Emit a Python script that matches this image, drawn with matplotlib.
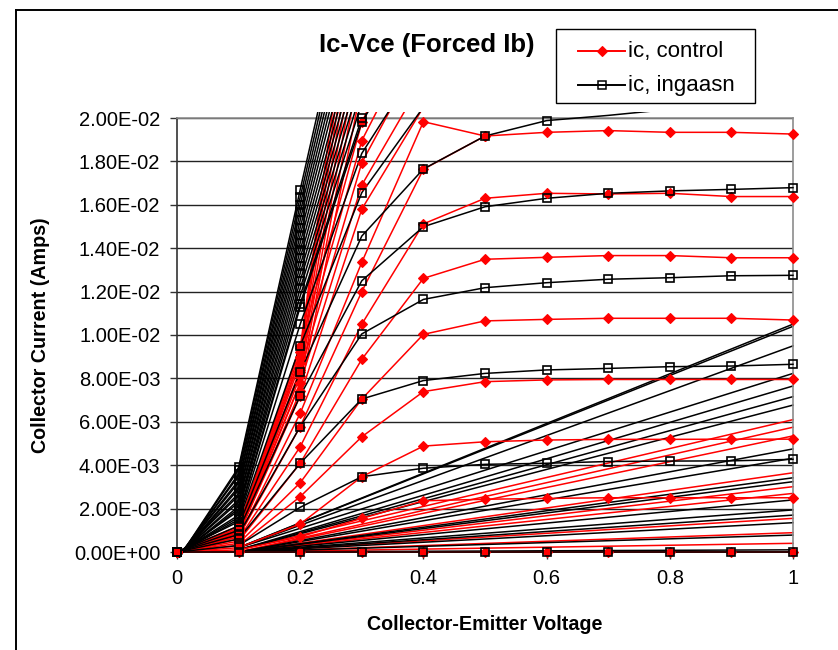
import matplotlib
matplotlib.use("Agg")
import matplotlib.pyplot as plt
from matplotlib.lines import Line2D
from matplotlib.patches import Rectangle
from matplotlib.ticker import FuncFormatter

plt.rcParams['font.family'] = ['Liberation Sans', 'DejaVu Sans']

# Collector-emitter voltage steps of the sweep (V)
vce = [0.0, 0.1, 0.2, 0.3, 0.4, 0.5, 0.6, 0.7, 0.8, 0.9, 1.0]

# Collector current (A) per forced base-current step, control device
control_curves = [
    [0, 0, 0, 0, 0, 0, 0, 0, 0, 0, 0],
    [0, 0.0001, 0.0007, 0.00155, 0.00236, 0.00243, 0.00247, 0.0025, 0.0025, 0.0025, 0.0025],
    [0, 0.0002, 0.00129, 0.00347, 0.00488, 0.00508, 0.00516, 0.00519, 0.00519, 0.0052, 0.0052],
    [0, 0.0003, 0.00255, 0.00531, 0.00739, 0.00785, 0.00793, 0.00795, 0.00795, 0.00795, 0.00795],
    [0, 0.0004, 0.00319, 0.00705, 0.01003, 0.01065, 0.01072, 0.01077, 0.01077, 0.01077, 0.01069],
    [0, 0.0005, 0.00409, 0.00888, 0.01261, 0.01349, 0.01358, 0.01366, 0.01366, 0.01356, 0.01356],
    [0, 0.0006, 0.00485, 0.0105, 0.01512, 0.0163, 0.01653, 0.0165, 0.01653, 0.01638, 0.01638],
    [0, 0.0007, 0.00578, 0.0120, 0.01764, 0.01917, 0.01934, 0.01942, 0.01934, 0.01934, 0.01926],
    [0, 0.0007, 0.00639, 0.01335, 0.01983, 0.01917],
    [0, 0.0008, 0.0072, 0.0158, 0.0205],
    [0, 0.0008, 0.00777, 0.01691, 0.0218],
    [0, 0.0009, 0.0083, 0.01794, 0.0232],
    [0, 0.0009, 0.00892, 0.01896, 0.0245],
    [0, 0.0010, 0.0095, 0.0198, 0.0258],
    [0, 0.0008, 0.0074, 0.0215],
    [0, 0.0009, 0.0078, 0.0228],
    [0, 0.0009, 0.0081, 0.0240],
    [0, 0.0010, 0.0084, 0.0252],
    [0, 0.0010, 0.0087, 0.0265],
    [0, 0.0011, 0.0090, 0.0278],
    [0, 0.0011, 0.0092, 0.0290],
    [0, 0.0012, 0.0094, 0.0302],
]

# Collector current (A) per forced base-current step, InGaAsN device
ingaasn_curves = [
    [0, 0, 0, 0, 0, 0, 0, 0, 0, 0, 0],
    [0, 0.0003, 0.00206, 0.00347, 0.00386, 0.00404, 0.00409, 0.00417, 0.00419, 0.0042, 0.00427],
    [0, 0.0006, 0.00409, 0.00705, 0.0079, 0.00823, 0.00839, 0.00846, 0.00854, 0.00857, 0.00865],
    [0, 0.0008, 0.00578, 0.01005, 0.01164, 0.01218, 0.01241, 0.01257, 0.01264, 0.01273, 0.01275],
    [0, 0.0010, 0.0072, 0.0125, 0.01499, 0.01591, 0.0163, 0.01653, 0.01664, 0.01671, 0.01679],
    [0, 0.0012, 0.0083, 0.01456, 0.01765, 0.01917, 0.01988, 0.02012, 0.0204, 0.0206, 0.0207],
    [0, 0.0014, 0.0095, 0.01656, 0.0205, 0.0222],
    [-0.0001, 0.0015, 0.0105, 0.01837, 0.0228],
    [-0.0001, 0.0016, 0.0113, 0.0198, 0.0246],
    [-0.0001, 0.0017, 0.01145, 0.0200],
    [-0.0001, 0.0019, 0.0118, 0.0207],
    [-0.0002, 0.0020, 0.01215, 0.0213],
    [-0.0002, 0.0021, 0.0125, 0.0219],
    [-0.0002, 0.0023, 0.01285, 0.0225],
    [-0.0002, 0.0024, 0.0132, 0.0231],
    [-0.0002, 0.0026, 0.01355, 0.0237],
    [-0.0002, 0.0027, 0.0139, 0.0243],
    [-0.0003, 0.0029, 0.01425, 0.0249],
    [-0.0003, 0.0030, 0.0146, 0.0256],
    [-0.0003, 0.0032, 0.01495, 0.0262],
    [-0.0003, 0.0033, 0.0153, 0.0268],
    [-0.0003, 0.0035, 0.01565, 0.0274],
    [-0.0004, 0.0036, 0.0160, 0.0280],
    [-0.0004, 0.0038, 0.01635, 0.0286],
    [-0.0004, 0.0039, 0.0167, 0.0292],
]

# Straight sweep segments from Vce = 0.1 V out to Vce = 1 V (A at each end)
control_tail_start = [0, 0, 0, 0, 0, 0, 0, 0, 0.0001]
control_tail_end = [0.0004, 0.00089, 0.00155, 0.0027, 0.00301, 0.00365, 0.00535, 0.00575, 0.0061]
ingaasn_tail_start = [0, 0, 0, 0, 0, 0, 0, 0, 0, 0, 0.0001, 0.0001, 0.0001, 0.0002, 0.0002, 0.0002, 0.0002]
ingaasn_tail_end = [0.0001, 0.00078, 0.00135, 0.0017, 0.00194, 0.0024, 0.00324, 0.00342, 0.00432,
                    0.00475, 0.00677, 0.00716, 0.00765, 0.00823, 0.0095, 0.0104, 0.0105]

yticks = [0.0, 0.002, 0.004, 0.006, 0.008, 0.010, 0.012, 0.014, 0.016, 0.018, 0.020]
xticks = [0, 0.2, 0.4, 0.6, 0.8, 1]
series_names = ['ic, control', 'ic, ingaasn']

W, H = 838, 650
fig = plt.figure(figsize=(W / 100, H / 100), dpi=100)
fig.patch.set_facecolor('white')
ax = fig.add_axes([177 / W, 1 - 552 / H, (793 - 177) / W, (552 - 118) / H])

clip = Rectangle((-0.009, -0.013), 1.018, 1.026, transform=ax.transAxes,
                 facecolor='none', edgecolor='none')

RED = '#FF0000'
LW = 1.1
YMAX = 0.0201


def px(x, y):
    """Pixel position (from the top-left corner) to figure fraction."""
    return x / W, 1 - y / H


def draw_family(curves, tail_start, tail_end, color, marker, ms, mfc, mew):
    for s, e in zip(tail_start, tail_end):
        ln, = ax.plot([vce[1], vce[-1]], [s, e], color=color, lw=LW, zorder=2)
        ln.set_clip_path(clip)
    for row in curves:
        xs = vce[:len(row)]
        ln, = ax.plot(xs, row, color=color, lw=LW, zorder=3)
        ln.set_clip_path(clip)
        pts = [(x, y) for x, y in zip(xs, row) if -0.0003 <= y <= YMAX]
        ax.plot([p[0] for p in pts], [max(p[1], 0) for p in pts], linestyle='none',
                marker=marker, ms=ms, mfc=mfc, mec=color, mew=mew, zorder=4, clip_on=False)


draw_family(control_curves, control_tail_start, control_tail_end, RED, 'D', 5.2, RED, 0.8)
draw_family(ingaasn_curves, ingaasn_tail_start, ingaasn_tail_end, 'black', 's', 6.3, 'none', 1.2)

ax.set_xlim(0, 1)
ax.set_ylim(0, 0.02)
ax.set_xticks(xticks)
ax.set_yticks(yticks)
ax.xaxis.set_major_formatter(FuncFormatter(lambda v, p: f"{v:g}"))
ax.yaxis.set_major_formatter(FuncFormatter(lambda v, p: format(v, '.2E')))
ax.grid(axis='y', color='#222222', lw=1.0, zorder=1)
ax.set_axisbelow(True)
ax.tick_params(axis='both', direction='out', length=5, width=1.0, color='#333333',
               labelsize=14.5, labelcolor='black')
ax.tick_params(axis='y', pad=7)
ax.tick_params(axis='x', pad=7)
for side in ('top', 'right'):
    ax.spines[side].set_color('#8c8c8c')
    ax.spines[side].set_linewidth(1.2)
for side in ('left', 'bottom'):
    ax.spines[side].set_color('#333333')
    ax.spines[side].set_linewidth(1.2)

ax.set_xlabel('Collector-Emitter Voltage', fontsize=14.2, fontweight='bold', labelpad=20)
ax.set_ylabel('Collector Current (Amps)', fontsize=14.2, fontweight='bold', labelpad=17)

fig.text(*px(427, 45), 'Ic-Vce (Forced Ib)', ha='center', va='center',
         fontsize=18.5, fontweight='bold')

# Legend box drawn at fixed pixel placement
x0, y0 = px(556, 103)
x1, y1 = px(755, 29)
fig.add_artist(Rectangle((x0, y0), x1 - x0, y1 - y0, transform=fig.transFigure,
                         facecolor='white', edgecolor='black', lw=1.0, zorder=5))
legend_styles = [
    dict(color=RED, marker='D', ms=5.5, mfc=RED, mec=RED, mew=0.8),
    dict(color='black', marker='s', ms=6.0, mfc='none', mec='black', mew=1.1),
]
for i, (name, style) in enumerate(zip(series_names, legend_styles)):
    yrow = 51 + 34 * i
    lx0, ly = px(578, yrow)
    lx1, _ = px(625, yrow)
    fig.add_artist(Line2D([lx0, lx1], [ly, ly], color=style['color'], lw=1.4,
                          transform=fig.transFigure, zorder=6))
    fig.add_artist(Line2D([(lx0 + lx1) / 2], [ly], linestyle='none', marker=style['marker'],
                          ms=style['ms'], mfc=style['mfc'], mec=style['mec'], mew=style['mew'],
                          transform=fig.transFigure, zorder=7))
    fig.text(*px(628, yrow), name, ha='left', va='center', fontsize=16, zorder=7)

# Outer chart frame
fig.add_artist(Line2D([16 / W, 16 / W], [0, 1 - 10 / H], color='black', lw=1.4,
                      transform=fig.transFigure))
fig.add_artist(Line2D([16 / W, 1], [1 - 10 / H, 1 - 10 / H], color='black', lw=1.4,
                      transform=fig.transFigure))

fig.savefig('out.png', dpi=100)
